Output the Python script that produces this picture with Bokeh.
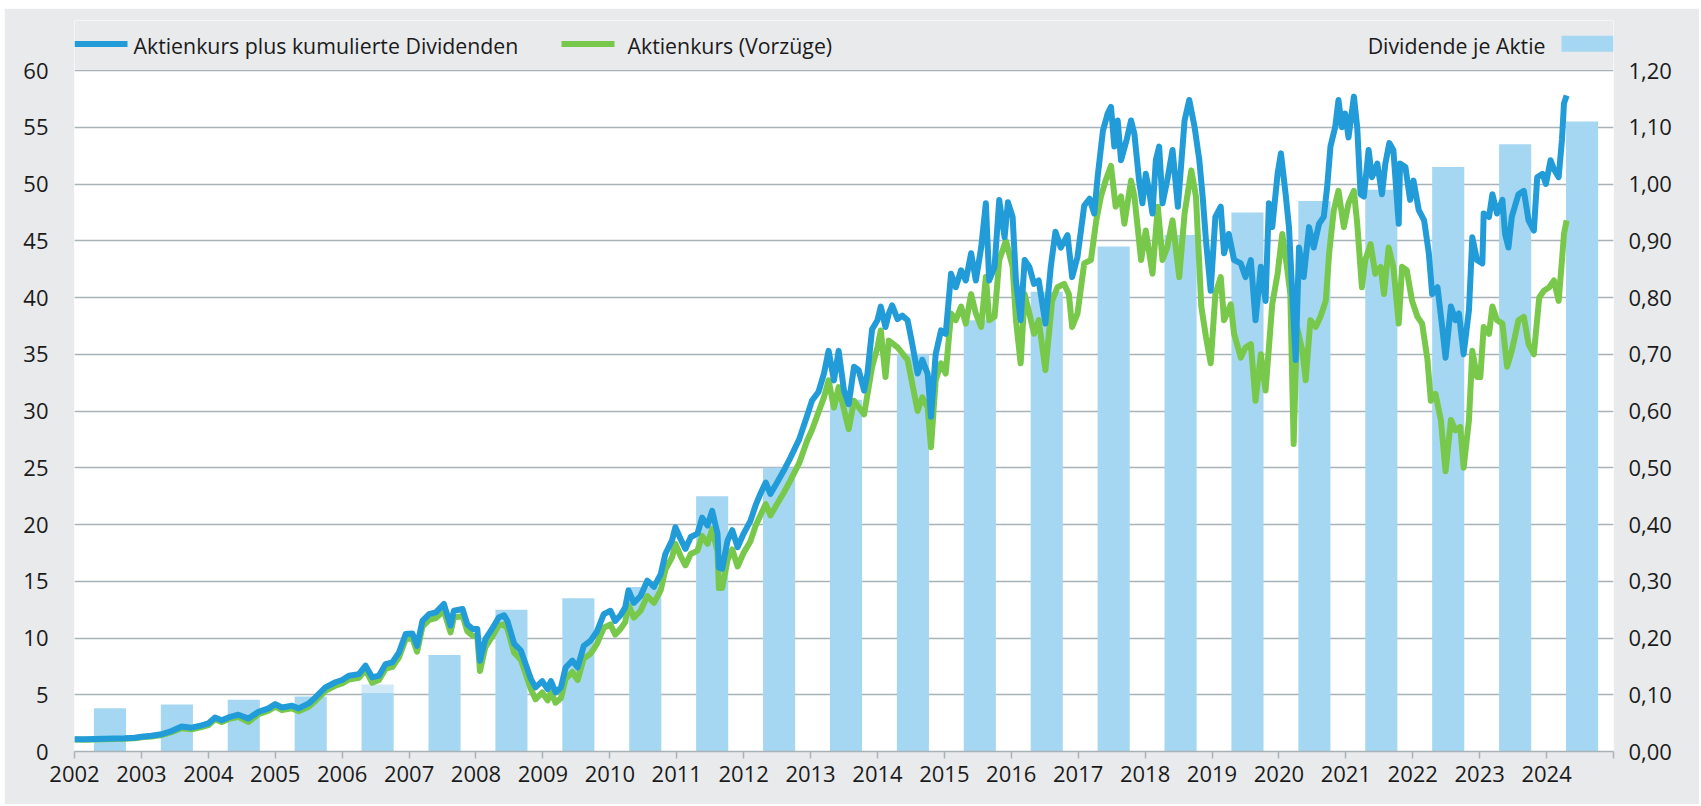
from bokeh.plotting import figure
from bokeh.models import Range1d, LinearAxis, FixedTicker, CustomJSTickFormatter, BoxAnnotation
from bokeh.core.properties import value
from bokeh.embed import file_html
from bokeh.resources import INLINE

# ---------------- data ----------------
years = list(range(2002, 2025))
dividend = [0.076, 0.083, 0.091, 0.097, 0.104, 0.17, 0.25, 0.27, 0.29, 0.45, 0.50, 0.62,
            0.70, 0.76, 0.81, 0.89, 0.91, 0.95, 0.97, 0.99, 1.03, 1.07, 1.11]
dividend_extra = [0, 0, 0, 0, 0.014, 0, 0, 0, 0, 0, 0, 0, 0, 0, 0, 0, 0, 0, 0, 0, 0, 0, 0]

total_t = [2002.00, 2002.15, 2002.30, 2002.45, 2002.60, 2002.75, 2002.90, 2003.00, 2003.15, 2003.30,
           2003.45, 2003.60, 2003.75, 2003.90, 2004.00, 2004.10, 2004.20, 2004.30, 2004.45, 2004.60,
           2004.75, 2004.90, 2005.00, 2005.10, 2005.25, 2005.35, 2005.50, 2005.60, 2005.75, 2005.90,
           2006.00, 2006.10, 2006.25, 2006.35, 2006.45, 2006.55, 2006.65, 2006.75, 2006.85, 2006.95,
           2007.05, 2007.12, 2007.20, 2007.30, 2007.40, 2007.52, 2007.62, 2007.67, 2007.80, 2007.87,
           2007.95, 2008.02, 2008.06, 2008.14, 2008.24, 2008.34, 2008.42, 2008.47, 2008.57, 2008.67,
           2008.82, 2008.89, 2008.99, 2009.07, 2009.12, 2009.19, 2009.27, 2009.34, 2009.44, 2009.52,
           2009.61, 2009.71, 2009.81, 2009.91, 2010.01, 2010.08, 2010.16, 2010.23, 2010.28, 2010.36,
           2010.46, 2010.56, 2010.66, 2010.76, 2010.83, 2010.93, 2010.98, 2011.06, 2011.13, 2011.21,
           2011.31, 2011.38, 2011.46, 2011.53, 2011.61, 2011.63, 2011.68, 2011.76, 2011.83, 2011.91,
           2012.00, 2012.10, 2012.18, 2012.25, 2012.33, 2012.40, 2012.50, 2012.60, 2012.70, 2012.83,
           2012.95, 2013.02, 2013.12, 2013.20, 2013.27, 2013.35, 2013.42, 2013.50, 2013.57, 2013.65,
           2013.72, 2013.80, 2013.85, 2013.92, 2014.00, 2014.05, 2014.12, 2014.17, 2014.22, 2014.30,
           2014.37, 2014.45, 2014.52, 2014.60, 2014.67, 2014.75, 2014.80, 2014.87, 2014.95, 2015.02,
           2015.10, 2015.17, 2015.25, 2015.32, 2015.40, 2015.47, 2015.55, 2015.62, 2015.67, 2015.75,
           2015.82, 2015.90, 2015.95, 2016.02, 2016.07, 2016.14, 2016.20, 2016.27, 2016.34, 2016.41,
           2016.51, 2016.59, 2016.66, 2016.74, 2016.84, 2016.91, 2016.99, 2017.09, 2017.17, 2017.24,
           2017.29, 2017.37, 2017.44, 2017.49, 2017.54, 2017.59, 2017.64, 2017.72, 2017.79, 2017.84,
           2017.91, 2017.96, 2018.01, 2018.06, 2018.11, 2018.16, 2018.21, 2018.26, 2018.33, 2018.41,
           2018.49, 2018.59, 2018.66, 2018.74, 2018.81, 2018.86, 2018.91, 2018.98, 2019.05, 2019.13,
           2019.18, 2019.25, 2019.33, 2019.43, 2019.50, 2019.58, 2019.65, 2019.73, 2019.80, 2019.85,
           2019.90, 2019.98, 2020.03, 2020.10, 2020.15, 2020.20, 2020.25, 2020.30, 2020.37, 2020.45,
           2020.52, 2020.60, 2020.67, 2020.72, 2020.77, 2020.84, 2020.89, 2020.94, 2020.99, 2021.04,
           2021.12, 2021.17, 2021.22, 2021.27, 2021.34, 2021.39, 2021.47, 2021.54, 2021.59, 2021.65,
           2021.71, 2021.79, 2021.81, 2021.89, 2021.96, 2022.01, 2022.09, 2022.17, 2022.24, 2022.29,
           2022.37, 2022.44, 2022.49, 2022.57, 2022.64, 2022.69, 2022.76, 2022.84, 2022.89, 2022.96,
           2023.04, 2023.06, 2023.14, 2023.19, 2023.26, 2023.34, 2023.38, 2023.43, 2023.48, 2023.58,
           2023.66, 2023.73, 2023.81, 2023.86, 2023.94, 2023.99, 2024.06, 2024.11, 2024.18, 2024.23,
           2024.26, 2024.30]
total_v = [1.09, 1.08, 1.10, 1.12, 1.15, 1.17, 1.22, 1.30, 1.38, 1.52,
           1.80, 2.20, 2.10, 2.30, 2.47, 3.00, 2.76, 3.00, 3.24, 2.90,
           3.50, 3.80, 4.18, 3.88, 4.03, 3.80, 4.24, 4.76, 5.65, 6.10,
           6.30, 6.68, 6.82, 7.56, 6.53, 6.68, 7.70, 7.85, 8.74, 10.35,
           10.40, 9.30, 11.50, 12.10, 12.26, 13.00, 11.10, 12.40, 12.55, 11.20,
           10.80, 10.80, 8.00, 9.90, 10.80, 11.80, 12.00, 11.50, 9.50, 8.90,
           6.40, 5.65, 6.20, 5.50, 6.20, 5.20, 5.65, 7.40, 8.00, 7.40,
           9.30, 9.75, 10.60, 12.10, 12.40, 11.50, 12.00, 12.70, 14.20, 13.10,
           13.70, 15.05, 14.50, 15.60, 17.40, 18.60, 19.75, 18.70, 17.85, 18.90,
           19.20, 20.60, 19.90, 21.20, 19.20, 16.20, 16.10, 18.60, 19.50, 18.00,
           19.20, 20.30, 21.70, 22.70, 23.70, 22.70, 23.70, 24.75, 25.90, 27.50,
           29.60, 30.90, 31.70, 33.30, 35.30, 32.70, 35.30, 31.80, 30.60, 33.90,
           33.60, 31.80, 33.30, 37.20, 38.00, 39.20, 37.40, 38.60, 39.30, 38.10,
           38.40, 38.00, 35.90, 33.30, 34.50, 33.30, 29.50, 35.00, 37.10, 36.80,
           42.10, 40.90, 42.40, 41.50, 43.90, 41.50, 44.40, 48.30, 41.50, 42.70,
           48.60, 45.30, 48.40, 47.10, 41.50, 38.00, 43.30, 42.70, 41.20, 41.50,
           37.70, 42.70, 45.80, 44.40, 45.50, 41.80, 43.60, 48.10, 48.70, 47.40,
           50.60, 54.70, 56.20, 56.80, 53.30, 55.60, 52.10, 53.80, 55.60, 54.40,
           50.30, 48.30, 50.90, 49.40, 47.40, 52.10, 53.30, 48.30, 50.30, 53.00,
           48.00, 55.60, 57.40, 55.00, 52.10, 48.90, 45.00, 40.60, 47.10, 48.00,
           43.90, 45.60, 43.30, 43.00, 41.80, 43.30, 38.00, 42.70, 39.70, 48.30,
           46.20, 50.90, 52.70, 49.10, 46.20, 40.30, 34.50, 44.40, 41.80, 46.20,
           44.40, 46.50, 47.10, 49.70, 53.30, 55.00, 57.40, 55.00, 56.20, 54.10,
           57.70, 55.00, 49.10, 48.90, 53.00, 50.60, 51.80, 49.10, 51.80, 53.60,
           53.00, 46.50, 51.80, 51.50, 48.60, 50.30, 47.70, 46.80, 43.90, 40.30,
           40.90, 37.40, 34.70, 39.20, 38.00, 38.60, 35.00, 38.90, 45.30, 43.30,
           43.00, 47.40, 47.10, 49.10, 47.40, 48.60, 45.60, 44.40, 47.10, 49.10,
           49.40, 46.80, 45.90, 50.60, 50.90, 50.00, 52.10, 51.30, 50.60, 53.90,
           57.10, 57.80]

price_t = [2002.00, 2002.15, 2002.30, 2002.45, 2002.60, 2002.75, 2002.90, 2003.00, 2003.15, 2003.30,
           2003.45, 2003.60, 2003.75, 2003.90, 2004.00, 2004.10, 2004.20, 2004.30, 2004.45, 2004.60,
           2004.75, 2004.90, 2005.00, 2005.10, 2005.25, 2005.35, 2005.50, 2005.60, 2005.75, 2005.90,
           2006.00, 2006.10, 2006.25, 2006.35, 2006.45, 2006.55, 2006.65, 2006.75, 2006.85, 2006.95,
           2007.05, 2007.12, 2007.20, 2007.30, 2007.40, 2007.52, 2007.62, 2007.67, 2007.80, 2007.87,
           2007.95, 2008.02, 2008.06, 2008.14, 2008.24, 2008.34, 2008.42, 2008.47, 2008.57, 2008.67,
           2008.82, 2008.89, 2008.99, 2009.07, 2009.12, 2009.19, 2009.27, 2009.34, 2009.44, 2009.52,
           2009.61, 2009.71, 2009.81, 2009.91, 2010.01, 2010.08, 2010.16, 2010.23, 2010.28, 2010.36,
           2010.46, 2010.56, 2010.66, 2010.76, 2010.83, 2010.93, 2010.98, 2011.06, 2011.13, 2011.21,
           2011.31, 2011.38, 2011.46, 2011.53, 2011.61, 2011.63, 2011.68, 2011.76, 2011.83, 2011.91,
           2012.00, 2012.10, 2012.18, 2012.25, 2012.33, 2012.40, 2012.50, 2012.60, 2012.70, 2012.83,
           2012.95, 2013.02, 2013.20, 2013.27, 2013.35, 2013.42, 2013.57, 2013.65, 2013.80, 2013.92,
           2014.00, 2014.05, 2014.12, 2014.17, 2014.30, 2014.45, 2014.60, 2014.67, 2014.75, 2014.80,
           2014.87, 2014.95, 2015.02, 2015.10, 2015.17, 2015.25, 2015.32, 2015.40, 2015.47, 2015.55,
           2015.62, 2015.67, 2015.75, 2015.82, 2015.92, 2016.02, 2016.07, 2016.14, 2016.20, 2016.27,
           2016.34, 2016.41, 2016.51, 2016.61, 2016.69, 2016.79, 2016.86, 2016.91, 2016.99, 2017.09,
           2017.19, 2017.27, 2017.34, 2017.41, 2017.49, 2017.56, 2017.64, 2017.69, 2017.79, 2017.84,
           2017.94, 2018.01, 2018.11, 2018.19, 2018.26, 2018.33, 2018.41, 2018.51, 2018.59, 2018.69,
           2018.76, 2018.84, 2018.91, 2018.98, 2019.05, 2019.13, 2019.18, 2019.28, 2019.33, 2019.43,
           2019.50, 2019.58, 2019.65, 2019.73, 2019.80, 2019.90, 2019.98, 2020.05, 2020.12, 2020.17,
           2020.22, 2020.27, 2020.35, 2020.40, 2020.47, 2020.55, 2020.62, 2020.70, 2020.75, 2020.82,
           2020.89, 2020.97, 2021.04, 2021.12, 2021.17, 2021.24, 2021.29, 2021.37, 2021.44, 2021.52,
           2021.57, 2021.64, 2021.71, 2021.79, 2021.84, 2021.91, 2021.99, 2022.07, 2022.14, 2022.22,
           2022.27, 2022.34, 2022.42, 2022.49, 2022.57, 2022.64, 2022.71, 2022.76, 2022.84, 2022.89,
           2022.96, 2023.01, 2023.06, 2023.14, 2023.19, 2023.26, 2023.34, 2023.41, 2023.48, 2023.58,
           2023.66, 2023.73, 2023.81, 2023.89, 2023.96, 2024.04, 2024.11, 2024.18, 2024.23, 2024.26,
           2024.30]
price_v = [1.05, 1.04, 1.06, 1.08, 1.10, 1.12, 1.17, 1.25, 1.32, 1.45,
           1.70, 2.05, 1.95, 2.15, 2.32, 2.85, 2.60, 2.85, 3.05, 2.60,
           3.30, 3.60, 3.95, 3.65, 3.80, 3.55, 3.95, 4.45, 5.35, 5.80,
           6.00, 6.35, 6.50, 7.20, 6.05, 6.30, 7.30, 7.45, 8.30, 9.90,
           9.95, 8.80, 11.00, 11.60, 11.75, 12.40, 10.50, 11.80, 11.95, 10.60,
           10.20, 10.15, 7.10, 9.20, 10.10, 11.10, 11.20, 10.80, 8.70, 8.10,
           5.50, 4.60, 5.20, 4.50, 5.20, 4.30, 4.70, 6.40, 7.00, 6.30,
           8.20, 8.60, 9.50, 10.90, 11.20, 10.30, 10.80, 11.40, 12.90, 11.80,
           12.40, 13.70, 13.10, 14.20, 16.00, 17.10, 18.30, 17.20, 16.40, 17.40,
           17.70, 19.00, 18.30, 19.60, 17.60, 14.40, 14.40, 16.90, 17.80, 16.30,
           17.50, 18.50, 19.90, 20.80, 21.80, 20.80, 21.80, 22.80, 23.90, 25.40,
           27.40, 28.30, 31.20, 32.70, 30.30, 32.10, 28.40, 30.90, 29.70, 33.90,
           35.60, 37.10, 33.00, 36.20, 35.60, 34.50, 30.00, 31.20, 30.30, 26.80,
           32.70, 34.20, 33.30, 38.60, 38.00, 39.20, 37.70, 40.30, 38.60, 37.40,
           41.80, 38.00, 38.30, 43.30, 45.00, 42.70, 38.00, 34.20, 40.30, 38.60,
           36.80, 38.00, 33.60, 39.70, 40.90, 41.20, 40.30, 37.40, 38.60, 43.00,
           43.30, 46.80, 48.90, 50.30, 51.60, 48.00, 48.90, 46.50, 50.30, 48.90,
           43.30, 45.90, 42.10, 48.00, 43.30, 44.40, 46.80, 41.80, 47.40, 51.20,
           48.90, 39.20, 36.50, 34.20, 40.30, 41.80, 38.00, 39.40, 36.80, 34.70,
           35.60, 35.90, 30.90, 35.00, 31.80, 39.40, 42.10, 45.60, 42.70, 40.30,
           27.10, 37.40, 35.30, 32.70, 38.00, 37.40, 38.30, 39.70, 43.90, 47.70,
           49.40, 46.20, 48.30, 49.40, 46.50, 40.90, 43.30, 44.70, 42.10, 42.70,
           40.30, 44.40, 42.70, 37.70, 42.70, 42.40, 39.70, 38.30, 37.70, 34.50,
           30.90, 31.50, 29.20, 24.70, 29.20, 28.30, 28.60, 25.00, 29.20, 35.30,
           33.00, 33.00, 37.40, 36.80, 39.20, 38.00, 37.70, 33.90, 35.30, 38.00,
           38.30, 35.90, 35.00, 40.00, 40.60, 40.90, 41.50, 39.70, 43.30, 45.60,
           46.80]

left_ticks = list(range(0, 61, 5))
right_ticks = [0.0, 0.1, 0.2, 0.3, 0.4, 0.5, 0.6, 0.7, 0.8, 0.9, 1.0, 1.1, 1.2]
x_ticks = list(range(2002, 2026))

legend_labels = ["Aktienkurs plus kumulierte Dividenden", "Aktienkurs (Vorzüge)", "Dividende je Aktie"]

# ---------------- style / layout ----------------
FONT = "Open Sans"
FS = "22px"
LEG_FS = "21.3px"
TXT = "#1b1b1b"
BLUE = "#229CD8"
GREEN = "#78C94B"
BAR = "#A6D7F2"
BAR_LIGHT = "#CFE9F8"
BG = "#E9EAEC"
GRID = "#A9B2B9"

W, H = 1695, 796
FRAME_L, FRAME_W = 70, 1539          # frame: page x 74 .. 1613
FRAME_T, FRAME_H = 12, 731           # frame: page y 20 .. 751
PX_PER_UNIT = 681 / 60               # 60 -> page y 70
Y_MAX = FRAME_H / PX_PER_UNIT

p = figure(width=W, height=H, x_range=Range1d(2002, 2025), y_range=Range1d(0, Y_MAX),
           output_backend="svg", toolbar_location=None,
           min_border_left=FRAME_L, min_border_right=W - FRAME_L - FRAME_W,
           min_border_top=FRAME_T, min_border_bottom=H - FRAME_T - FRAME_H,
           background_fill_color="white", border_fill_color=BG, outline_line_color=None,
           margin=(8, 0, 0, 4))
p.extra_y_ranges = {"div": Range1d(0, Y_MAX / 50)}

# grey band above the 60 line (legend area)
p.add_layout(BoxAnnotation(bottom=60.08, fill_color=BG, fill_alpha=1, line_color=None, level="underlay"))

# page pixel -> data helpers for the legend placement
def px_x(xp):
    return 2002 + (xp - 74) * 23 / FRAME_W

def px_y(yp):
    return (751 - yp) / PX_PER_UNIT

bar_x = [y + 0.53 for y in years]
extra_top = [a + b for a, b in zip(dividend, dividend_extra)]
p.vbar(x=bar_x, top=dividend, bottom=0, width=0.48, y_range_name="div",
       fill_color=BAR, line_color=None)
p.vbar(x=bar_x, top=extra_top, bottom=dividend, width=0.48, y_range_name="div",
       fill_color=BAR_LIGHT, line_color=None)

p.line(price_t, price_v, line_color=GREEN, line_width=6, line_join="round")
p.line(total_t, total_v, line_color=BLUE, line_width=6, line_join="round")

# legend
p.line(x=[px_x(74), px_x(127)], y=[px_y(43.5)] * 2, line_color=BLUE, line_width=6)
p.line(x=[px_x(561), px_x(614)], y=[px_y(43.5)] * 2, line_color=GREEN, line_width=6)
p.quad(left=[px_x(1561)], right=[px_x(1613)], bottom=[px_y(51.3)], top=[px_y(35.3)],
       fill_color=BAR, line_color=None)
p.text(x=[px_x(133), px_x(627)], y=[px_y(44.5)] * 2, text=legend_labels[:2], text_font=value(FONT),
       text_font_size=LEG_FS, text_color=TXT, text_align="left", text_baseline="middle")
p.text(x=[px_x(1545)], y=[px_y(44.5)], text=legend_labels[2:], text_font=value(FONT),
       text_font_size=LEG_FS, text_color=TXT, text_align="right", text_baseline="middle")

# axes
xa = p.xaxis[0]
xa.ticker = FixedTicker(ticks=x_ticks)
xa.formatter = CustomJSTickFormatter(code="return tick >= 2025 ? '' : tick.toFixed(0);")
xa.axis_line_color = GRID
xa.axis_line_width = 1.5
xa.major_tick_line_color = GRID
xa.major_tick_line_width = 1.5
xa.major_tick_out = 7
xa.major_tick_in = 0
xa.minor_tick_line_color = None
xa.major_label_standoff = 7

ya = p.yaxis[0]
ya.ticker = FixedTicker(ticks=left_ticks)
ya.axis_line_color = None
ya.major_tick_line_color = None
ya.minor_tick_line_color = None
ya.major_label_standoff = 20

ra = LinearAxis(y_range_name="div", ticker=FixedTicker(ticks=right_ticks),
                formatter=CustomJSTickFormatter(code="return tick.toFixed(2).replace('.', ',');"))
ra.axis_line_color = None
ra.major_tick_line_color = None
ra.minor_tick_line_color = None
ra.major_label_standoff = 9
p.add_layout(ra, "right")

for ax in (xa, ya, ra):
    ax.major_label_text_font = FONT
    ax.major_label_text_font_size = FS
    ax.major_label_text_color = TXT

p.xgrid.grid_line_color = None
p.ygrid.ticker = FixedTicker(ticks=left_ticks)
p.ygrid.grid_line_color = GRID
p.ygrid.grid_line_width = 1.5

open("out.html", "w").write(file_html(p, INLINE))
